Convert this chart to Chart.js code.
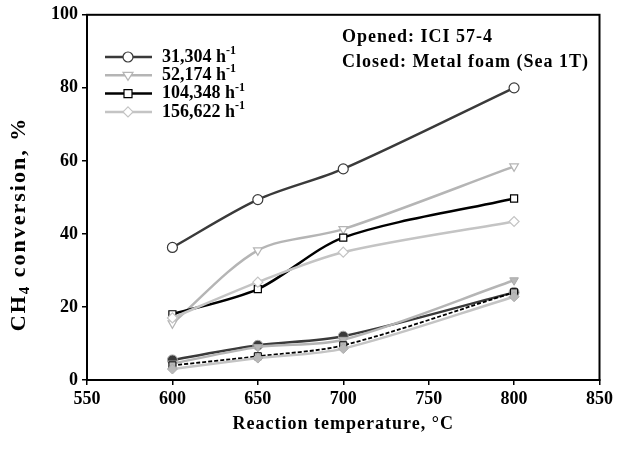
<!DOCTYPE html>
<html lang="en">
<head>
  <meta charset="UTF-8" />
  <title>CH4 conversion</title>
  <script src="https://cdn.jsdelivr.net/npm/chart.js"></script>
  <style>
    html, body { margin: 0; padding: 0; background: #fff; }
    #wrap { width: 617px; height: 453px; }
  </style>
</head>
<body>
  <div id="wrap"><canvas id="chart"></canvas></div>

  <script>
    // reaction temperatures (°C)
    const temps = [600, 650, 700, 800];
    // space velocities (h-1)
    const velocities = ['31,304', '52,174', '104,348', '156,622'];

    // opened: ICI 57-4
    const open31 = [36.3, 49.4, 57.8, 80.0];
    const open52 = [15.5, 35.5, 41.3, 58.5];
    const open104 = [18.0, 24.9, 39.0, 49.7];
    const open156 = [17.0, 26.8, 35.0, 43.4];

    // closed: metal foam (Sea 1T)
    const closed31 = [5.5, 9.5, 12.0, 24.0];
    const closed52 = [4.5, 9.0, 11.0, 27.3];
    const closed104 = [4.0, 6.5, 9.5, 24.0];
    const closed156 = [3.0, 6.0, 8.6, 22.8];

    const xTicks = [550, 600, 650, 700, 750, 800, 850];
    const yTicks = [0, 20, 40, 60, 80, 100];

    const serif = '"Liberation Serif", "DejaVu Serif", serif';
    const colors = ['#3a3a3a', '#b5b5b5', '#000000', '#c4c4c4'];
    const shapes = ['circle', 'triangle', 'rect', 'rectRot'];
    const rotations = [0, 180, 0, 0];

    const pts = vals => vals.map((v, i) => ({ x: temps[i], y: v }));

    function openSet(vals, i) {
      return {
        label: velocities[i] + ' h-1',
        data: pts(vals),
        borderColor: colors[i],
        borderWidth: 2.5,
        pointStyle: shapes[i],
        pointRotation: rotations[i],
        pointRadius: 5,
        pointBorderWidth: 1.2,
        pointBorderColor: colors[i],
        pointBackgroundColor: '#fff',
        tension: 0.3
      };
    }

    function closedSet(vals, i, dash) {
      return {
        label: 'closed ' + velocities[i],
        data: pts(vals),
        borderColor: colors[i],
        borderWidth: dash ? 1.8 : 2.5,
        borderDash: dash || [],
        pointStyle: shapes[i],
        pointRotation: rotations[i],
        pointRadius: 5,
        pointBorderWidth: 1,
        pointBorderColor: colors[i] === '#000000' ? '#000' : '#aaaaaa',
        pointBackgroundColor: i === 0 ? '#3a3a3a' : '#b8b8b8',
        tension: 0.3
      };
    }

    const openData = [open31, open52, open104, open156];

    function drawMarker(ctx, shape, x, y, r) {
      if (shape === 'circle') {
        ctx.arc(x, y, r, 0, Math.PI * 2);
      } else if (shape === 'triangle') {
        ctx.moveTo(x - r, y - r * 0.6);
        ctx.lineTo(x + r, y - r * 0.6);
        ctx.lineTo(x, y + r);
        ctx.closePath();
      } else if (shape === 'rect') {
        ctx.rect(x - r * 0.8, y - r * 0.8, r * 1.6, r * 1.6);
      } else {
        ctx.moveTo(x, y - r);
        ctx.lineTo(x + r, y);
        ctx.lineTo(x, y + r);
        ctx.lineTo(x - r, y);
        ctx.closePath();
      }
    }

    // spaced text helper
    function spaced(ctx, text, x, y, spacing) {
      ctx.letterSpacing = spacing + 'px';
      ctx.fillText(text, x, y);
      ctx.letterSpacing = '0px';
    }

    const extras = {
      id: 'extras',
      afterDraw(chart) {
        const ctx = chart.ctx;
        const a = chart.chartArea;
        ctx.save();
        // frame
        ctx.strokeStyle = '#000';
        ctx.lineWidth = 2;
        ctx.strokeRect(a.left, a.top, a.right - a.left, a.bottom - a.top);

        // legend (opened series)
        for (let i = 0; i < 4; i++) {
          const y = 57 + i * 18.3;
          ctx.strokeStyle = colors[i];
          ctx.lineWidth = 2.5;
          ctx.setLineDash([]);
          ctx.beginPath();
          ctx.moveTo(105, y);
          ctx.lineTo(152, y);
          ctx.stroke();
          ctx.fillStyle = '#fff';
          ctx.strokeStyle = colors[i];
          ctx.lineWidth = 1.2;
          ctx.beginPath();
          drawMarker(ctx, shapes[i], 128, y, 5);
          ctx.fill();
          ctx.stroke();

          ctx.fillStyle = '#000';
          ctx.font = 'bold 18px ' + serif;
          ctx.textBaseline = 'middle';
          ctx.textAlign = 'left';
          const main = velocities[i] + ' h';
          ctx.fillText(main, 162, y);
          const w = ctx.measureText(main).width;
          ctx.font = 'bold 12px ' + serif;
          ctx.fillText('-1', 162 + w, y - 6);
        }

        // annotation
        ctx.fillStyle = '#000';
        ctx.font = 'bold 18px ' + serif;
        ctx.textBaseline = 'middle';
        spaced(ctx, 'Opened: ICI 57-4', 342, 37, 1);
        spaced(ctx, 'Closed: Metal foam (Sea 1T)', 342, 62, 1);

        // x title
        ctx.textAlign = 'center';
        ctx.font = 'bold 18px ' + serif;
        spaced(ctx, 'Reaction temperature, \u00b0C', (a.left + a.right) / 2, 424, 1);

        // y title with subscript
        ctx.translate(19, 224);
        ctx.rotate(-Math.PI / 2);
        ctx.textAlign = 'left';
        const big = 'bold 22px ' + serif, small = 'bold 15px ' + serif;
        const p1 = 'CH', p2 = '4', p3 = ' conversion, %';
        ctx.letterSpacing = '2px';
        ctx.font = big;
        const w1 = ctx.measureText(p1).width;
        const w3 = ctx.measureText(p3).width;
        ctx.font = small;
        const w2 = ctx.measureText(p2).width;
        const x = -(w1 + w2 + w3) / 2;
        ctx.font = big;
        ctx.fillText(p1, x, 0);
        ctx.font = small;
        ctx.fillText(p2, x + w1, 6);
        ctx.font = big;
        ctx.fillText(p3, x + w1 + w2, 0);
        ctx.letterSpacing = '0px';
        ctx.restore();
      }
    };

    new Chart(document.getElementById('chart'), {
      type: 'line',
      data: {
        datasets: [
          closedSet(closed156, 3),
          closedSet(closed104, 2, [4, 2]),
          closedSet(closed52, 1),
          closedSet(closed31, 0),
          ...openData.map((d, i) => openSet(d, i)).reverse()
        ]
      },
      options: {
        responsive: true,
        maintainAspectRatio: false,
        animation: false,
        layout: { padding: { top: 14, right: 14, left: 0, bottom: 0 } },
        plugins: { legend: { display: false }, tooltip: { enabled: false } },
        scales: {
          x: {
            type: 'linear',
            min: 550,
            max: 850,
            afterBuildTicks: s => { s.ticks = xTicks.map(v => ({ value: v })); },
            afterFit: s => { s.height = 73; },
            ticks: { color: '#000', font: { family: serif, size: 18, weight: 'bold' }, padding: 4, maxRotation: 0 },
            grid: { drawOnChartArea: false, tickLength: 5, color: '#000', lineWidth: 1.5 },
            border: { color: '#000', width: 2 }
          },
          y: {
            min: 0,
            max: 100,
            afterBuildTicks: s => { s.ticks = yTicks.map(v => ({ value: v })); },
            afterFit: s => { s.width = 87; },
            ticks: { color: '#000', font: { family: serif, size: 18, weight: 'bold' }, padding: 4 },
            grid: { drawOnChartArea: false, tickLength: 5, color: '#000', lineWidth: 1.5 },
            border: { color: '#000', width: 2 }
          }
        }
      },
      plugins: [extras]
    });
  </script>
</body>
</html>
